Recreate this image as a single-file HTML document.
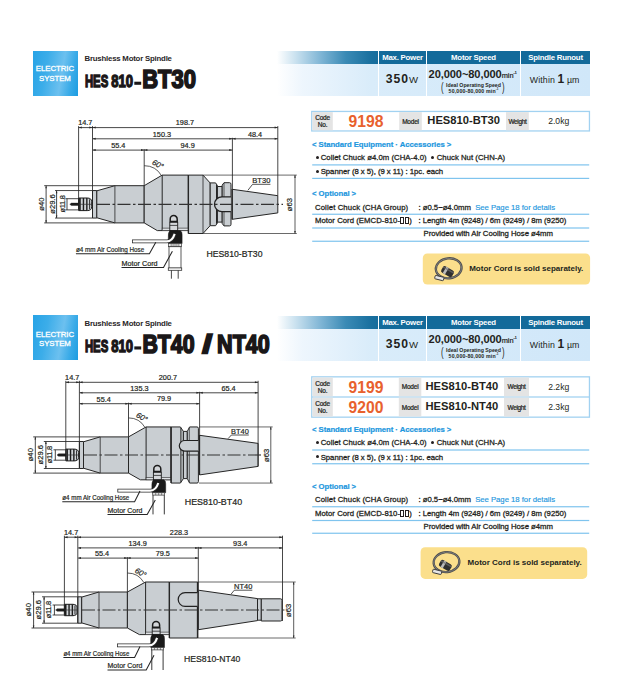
<!DOCTYPE html>
<html><head><meta charset="utf-8"><title>HES810</title>
<style>
html,body{margin:0;padding:0;background:#fff;}
body{width:624px;height:683px;position:relative;overflow:hidden;font-family:"Liberation Sans",sans-serif;color:#231f20;}
.a{position:absolute;white-space:nowrap;line-height:1;}
.es{left:33px;width:45px;height:45px;background:linear-gradient(100deg,#27a3e6 0%,#3cade9 30%,#6cc0ef 62%,#3aabe8 82%,#1c9ce1 100%);}
.es span{position:absolute;left:-.6px;width:45px;text-align:center;color:#fff;font-size:7.8px;line-height:9.4px;top:13.4px;letter-spacing:-0.05px;-webkit-text-stroke:.3px #fff}
.sub{left:84.5px;font-size:7.8px;font-weight:bold;color:#2a2627;letter-spacing:-0.2px}
.hb{left:277px;width:313px;height:13px;background:linear-gradient(90deg,#fff 0%,#c9e1ef 6%,#7fb5d5 14%,#3a8ab5 22%,#19709f 30%,#136a9a 34%,#136a9a 100%);}
.lb{left:277px;width:313px;height:32px;background:linear-gradient(90deg,#fff 0%,#eef6fd 8%,#d9ecfa 30%,#d0e7f9 100%);}
.vs{width:1px;height:45px;background:#fff;}
.ht{color:#fff;font-weight:bold;font-size:7.8px;text-align:center;letter-spacing:-0.22px}
.cb{left:311px;width:276px;border:1.5px solid #a5d3f1;background:#fff;}
.g{background:#e3e3e3;}
.gl{font-size:6.5px;line-height:7.3px;color:#231f20;text-align:center;letter-spacing:-0.2px;-webkit-text-stroke:.22px #231f20}
.code{color:#e8612d;font-weight:bold;font-size:15.7px;}
.mod{font-weight:bold;font-size:11.2px;color:#231f20}
.wt{font-size:8.6px;color:#231f20}
.bh{color:#1d97de;font-weight:bold;font-size:7.75px;left:312.3px;letter-spacing:-0.06px;-webkit-text-stroke:.2px #1d97de}
.t{font-size:7.75px;color:#231f20;letter-spacing:-0.03px;-webkit-text-stroke:.28px #231f20}
.bx{display:inline-block;width:2.1px;height:5.6px;border:.9px solid #231f20;margin:0 .25px;vertical-align:-1px;box-sizing:content-box}
.bu{display:inline-block;width:3px;height:3px;border-radius:50%;background:#231f20;vertical-align:1.3px;margin:0 2.2px 0 .5px}
.ln{left:312px;width:277px;height:1px;background:#84c6ef;}
.yb{width:167px;height:31px;background:#fbdf8c;border-radius:4.5px;}
.yt{font-weight:bold;font-size:8px;color:#231f20;letter-spacing:0}
</style></head><body>
<div class="a es" style="top:51px"><span style="top:13.4px">ELECTRIC<br>SYSTEM</span></div>
<div class="a sub" style="top:55.2px">Brushless Motor Spindle</div>
<svg class="a" style="left:0;top:0" width="624" height="683" viewBox="0 0 624 683"><g font-family="Liberation Sans, sans-serif" font-weight="bold" fill="#1a1718" stroke="#1a1718" stroke-linejoin="miter"><text x="84.9" y="87.2" font-size="17.3" stroke-width="1.35" textLength="23.4" lengthAdjust="spacingAndGlyphs">HES</text><text x="111.3" y="87.2" font-size="17.3" stroke-width="1.35" textLength="21.8" lengthAdjust="spacingAndGlyphs">810</text><rect x="134.3" y="81.7" width="6.9" height="3.1" stroke="none"/><text x="142.20" y="87.9" font-size="25.2" stroke-width="1.7" textLength="53.80" lengthAdjust="spacingAndGlyphs">BT30</text></g></svg>
<div class="a hb" style="top:51px"></div><div class="a lb" style="top:64px"></div>
<div class="a vs" style="left:378px;top:51px"></div>
<div class="a vs" style="left:426px;top:51px"></div>
<div class="a vs" style="left:520px;top:51px"></div>
<div class="a ht" style="left:379px;width:47px;top:54px">Max. Power</div>
<div class="a ht" style="left:427px;width:93px;top:54px">Motor Speed</div>
<div class="a ht" style="left:521px;width:69px;top:54px">Spindle Runout</div>
<div class="a" style="left:378.4px;width:47px;top:72.7px;text-align:center;font-weight:bold;font-size:12.2px;letter-spacing:1px">350<span style="font-weight:normal;font-size:9.6px;letter-spacing:0">W</span></div>
<div class="a" style="left:426.2px;width:93px;top:68.6px;text-align:center;font-weight:bold;font-size:11.1px;letter-spacing:-0.1px">20,000~80,000<span style="font-weight:normal;font-size:7.4px;letter-spacing:0;-webkit-text-stroke:.2px #231f20">min<sup style="font-size:3.6px;line-height:0;vertical-align:3.6px">-1</sup></span></div>
<div class="a" style="left:427px;width:93px;top:83px;text-align:center;font-weight:bold;font-size:5.2px;line-height:5.5px;letter-spacing:0">Ideal Operating Speed<br><span style="letter-spacing:.18px">50,000-80,000 min</span><sup style="font-size:3px;line-height:0">-1</sup></div>
<div class="a" style="left:441.3px;top:81.3px;font-size:12.5px;transform:scaleX(.62);transform-origin:0 0;color:#231f20">(</div>
<div class="a" style="left:501.6px;top:81.3px;font-size:12.5px;transform:scaleX(.62);transform-origin:0 0;color:#231f20">)</div>
<div class="a" style="left:520.2px;width:69px;top:72.6px;text-align:center;font-size:8.8px;letter-spacing:.12px">Within <b style="font-size:12px">1</b> &micro;m</div>
<svg class="a" style="left:0;top:0" width="624" height="683" viewBox="0 0 624 683">
<rect x="311.1" y="110.8" width="279.0" height="20.799999999999997" fill="#a2d2f1"/>
<rect x="312.40000000000003" y="112.10" width="276.4" height="18.20" fill="#fff"/>
<rect x="312.40000000000003" y="112.10" width="20.40" height="18.20" fill="#e4e4e4"/>
<rect x="399.2" y="112.10" width="22.60" height="18.20" fill="#e4e4e4"/>
<rect x="506" y="112.10" width="22.80" height="18.20" fill="#e4e4e4"/>
</svg>
<div class="a gl" style="left:312.4px;top:114.05px;width:20.4px">Code<br>No.</div>
<div class="a code" style="left:348.6px;top:114.20px">9198</div>
<div class="a gl" style="left:399.2px;top:117.70px;width:22.6px">Model</div>
<div class="a mod" style="left:427.3px;top:115.30px">HES810-BT30</div>
<div class="a gl" style="left:506px;top:117.70px;width:22.8px;letter-spacing:-.35px">Weight</div>
<div class="a wt" style="left:548.2px;top:116.80px">2.0kg</div>
<div class="a bh" style="left:312px;top:140.69px">&lt; Standard Equipment &middot; Accessories &gt;</div>
<div class="a t" style="left:315px;top:154.19px"><span style="letter-spacing:.03px"><i class="bu"></i>Collet Chuck &oslash;4.0m (CHA-4.0)&nbsp; <i class="bu"></i>Chuck Nut (CHN-A)</span></div>
<svg class="a" style="left:312px;top:162px" width="278" height="5" viewBox="0 162 278 5"><rect x="0.2" y="164.30" width="277" height="1.2" fill="#7fc4ee"/></svg>
<div class="a t" style="left:315px;top:168.19px"><i class="bu"></i>Spanner (8 x 5), (9 x 11) : 1pc. each</div>
<svg class="a" style="left:312px;top:176px" width="278" height="5" viewBox="0 176 278 5"><rect x="0.2" y="177.80" width="277" height="1.2" fill="#7fc4ee"/></svg>
<div class="a bh" style="left:312px;top:190.49px">&lt; Optional &gt;</div>
<div class="a t" style="left:315px;top:203.69px"><span style="letter-spacing:.1px">Collet Chuck (CHA Group)</span></div>
<div class="a t" style="left:418.5px;top:203.69px">: &oslash;0.5~&oslash;4.0mm&nbsp; <span style="color:#1d97de;-webkit-text-stroke:.15px #1d97de">See Page 18 for details</span></div>
<svg class="a" style="left:312px;top:212px" width="278" height="5" viewBox="0 212 278 5"><rect x="0.2" y="213.65" width="277" height="1.2" fill="#7fc4ee"/></svg>
<div class="a t" style="left:315px;top:216.89px"><span style="letter-spacing:.03px">Motor Cord (EMCD-810-<i class="bx"></i><i class="bx"></i>)</span></div>
<div class="a t" style="left:418.5px;top:216.89px">: Length 4m (9248) / 6m (9249) / 8m (9250)</div>
<svg class="a" style="left:312px;top:226px" width="278" height="5" viewBox="0 226 278 5"><rect x="0.2" y="227.40" width="277" height="1.2" fill="#7fc4ee"/></svg>
<div class="a t" style="left:423.5px;top:230.39px">Provided with Air Cooling Hose &oslash;4mm</div>
<svg class="a" style="left:312px;top:239px" width="278" height="5" viewBox="0 239 278 5"><rect x="0.2" y="240.65" width="277" height="1.2" fill="#7fc4ee"/></svg>
<svg class="a" style="left:0;top:0" width="624" height="683" viewBox="0 0 624 683">
<rect x="422.8" y="253.4" width="167.3" height="31.2" rx="4.5" fill="#fbdf8c"/>
<g transform="translate(422.8 253.4)">
<g transform="rotate(-6 25.9 14.9)"><ellipse cx="25.9" cy="14.9" rx="12.9" ry="10" fill="none" stroke="#4c4c4c" stroke-width="2.3"/>
<ellipse cx="25.9" cy="14.9" rx="12.9" ry="10" fill="none" stroke="#8d8d8b" stroke-width=".7"/></g>
<g transform="rotate(14 16.5 24.7)"><rect x="12" y="22.9" width="9" height="3.5" rx=".8" fill="#e6e6e6" stroke="#3a3a3a" stroke-width=".9"/></g>
<g transform="rotate(30 24.6 18)"><rect x="18.6" y="14.4" width="12.4" height="7.4" rx="2.2" fill="#2f2f2f"/><rect x="21.4" y="14.4" width="2.6" height="7.4" fill="#b9b9b9"/><rect x="18.6" y="15.6" width="12.4" height="1.5" fill="#6d6d6d" opacity=".7"/></g>
</g></svg>
<div class="a yt" style="left:469.2px;top:264.90px">Motor Cord is sold separately.</div>
<div class="a es" style="top:315px"><span style="top:14.700000000000001px">ELECTRIC<br>SYSTEM</span></div>
<div class="a sub" style="top:320.09999999999997px">Brushless Motor Spindle</div>
<svg class="a" style="left:0;top:0" width="624" height="683" viewBox="0 0 624 683"><g font-family="Liberation Sans, sans-serif" font-weight="bold" fill="#1a1718" stroke="#1a1718" stroke-linejoin="miter"><text x="84.9" y="351.9" font-size="17.3" stroke-width="1.35" textLength="23.4" lengthAdjust="spacingAndGlyphs">HES</text><text x="111.3" y="351.9" font-size="17.3" stroke-width="1.35" textLength="21.8" lengthAdjust="spacingAndGlyphs">810</text><rect x="134.3" y="346.4" width="6.9" height="3.1" stroke="none"/><text x="142.40" y="352.59999999999997" font-size="25.2" stroke-width="1.7" textLength="52.20" lengthAdjust="spacingAndGlyphs">BT40</text><text x="202.30" y="352.59999999999997" font-size="25.2" stroke-width="1.7" textLength="10.00" lengthAdjust="spacingAndGlyphs">/</text><text x="217.10" y="352.59999999999997" font-size="25.2" stroke-width="1.7" textLength="52.70" lengthAdjust="spacingAndGlyphs">NT40</text></g></svg>
<div class="a hb" style="top:316px"></div><div class="a lb" style="top:329px"></div>
<div class="a vs" style="left:378px;top:316px"></div>
<div class="a vs" style="left:426px;top:316px"></div>
<div class="a vs" style="left:520px;top:316px"></div>
<div class="a ht" style="left:379px;width:47px;top:319px">Max. Power</div>
<div class="a ht" style="left:427px;width:93px;top:319px">Motor Speed</div>
<div class="a ht" style="left:521px;width:69px;top:319px">Spindle Runout</div>
<div class="a" style="left:378.4px;width:47px;top:337.7px;text-align:center;font-weight:bold;font-size:12.2px;letter-spacing:1px">350<span style="font-weight:normal;font-size:9.6px;letter-spacing:0">W</span></div>
<div class="a" style="left:426.2px;width:93px;top:333.6px;text-align:center;font-weight:bold;font-size:11.1px;letter-spacing:-0.1px">20,000~80,000<span style="font-weight:normal;font-size:7.4px;letter-spacing:0;-webkit-text-stroke:.2px #231f20">min<sup style="font-size:3.6px;line-height:0;vertical-align:3.6px">-1</sup></span></div>
<div class="a" style="left:427px;width:93px;top:348px;text-align:center;font-weight:bold;font-size:5.2px;line-height:5.5px;letter-spacing:0">Ideal Operating Speed<br><span style="letter-spacing:.18px">50,000-80,000 min</span><sup style="font-size:3px;line-height:0">-1</sup></div>
<div class="a" style="left:441.3px;top:346.3px;font-size:12.5px;transform:scaleX(.62);transform-origin:0 0;color:#231f20">(</div>
<div class="a" style="left:501.6px;top:346.3px;font-size:12.5px;transform:scaleX(.62);transform-origin:0 0;color:#231f20">)</div>
<div class="a" style="left:520.2px;width:69px;top:337.6px;text-align:center;font-size:8.8px;letter-spacing:.12px">Within <b style="font-size:12px">1</b> &micro;m</div>
<svg class="a" style="left:0;top:0" width="624" height="683" viewBox="0 0 624 683">
<rect x="311.1" y="376.2" width="279.0" height="41.60000000000002" fill="#a2d2f1"/>
<rect x="312.40000000000003" y="377.50" width="276.4" height="18.85" fill="#fff"/>
<rect x="312.40000000000003" y="377.50" width="20.40" height="18.85" fill="#e4e4e4"/>
<rect x="398.8" y="377.50" width="22.50" height="18.85" fill="#e4e4e4"/>
<rect x="504" y="377.50" width="25.00" height="18.85" fill="#e4e4e4"/>
<rect x="312.40000000000003" y="397.65" width="276.4" height="18.85" fill="#fff"/>
<rect x="312.40000000000003" y="397.65" width="20.40" height="18.85" fill="#e4e4e4"/>
<rect x="398.8" y="397.65" width="22.50" height="18.85" fill="#e4e4e4"/>
<rect x="504" y="397.65" width="25.00" height="18.85" fill="#e4e4e4"/>
</svg>
<div class="a gl" style="left:312.4px;top:379.78px;width:20.4px">Code<br>No.</div>
<div class="a code" style="left:348.6px;top:379.93px">9199</div>
<div class="a gl" style="left:398.8px;top:383.43px;width:22.5px">Model</div>
<div class="a mod" style="left:425.5px;top:381.03px">HES810-BT40</div>
<div class="a gl" style="left:504px;top:383.43px;width:25.0px;letter-spacing:-.35px">Weight</div>
<div class="a wt" style="left:548.2px;top:382.53px">2.2kg</div>
<div class="a gl" style="left:312.4px;top:399.93px;width:20.4px">Code<br>No.</div>
<div class="a code" style="left:348.6px;top:400.08px">9200</div>
<div class="a gl" style="left:398.8px;top:403.58px;width:22.5px">Model</div>
<div class="a mod" style="left:425.5px;top:401.18px">HES810-NT40</div>
<div class="a gl" style="left:504px;top:403.58px;width:25.0px;letter-spacing:-.35px">Weight</div>
<div class="a wt" style="left:548.2px;top:402.68px">2.3kg</div>
<div class="a bh" style="left:312px;top:425.69px">&lt; Standard Equipment &middot; Accessories &gt;</div>
<div class="a t" style="left:315px;top:439.49px"><span style="letter-spacing:.03px"><i class="bu"></i>Collet Chuck &oslash;4.0m (CHA-4.0)&nbsp; <i class="bu"></i>Chuck Nut (CHN-A)</span></div>
<svg class="a" style="left:312px;top:448px" width="278" height="5" viewBox="0 448 278 5"><rect x="0.2" y="449.40" width="277" height="1.2" fill="#7fc4ee"/></svg>
<div class="a t" style="left:315px;top:453.69px"><i class="bu"></i>Spanner (8 x 5), (9 x 11) : 1pc. each</div>
<svg class="a" style="left:312px;top:461px" width="278" height="5" viewBox="0 461 278 5"><rect x="0.2" y="463.15" width="277" height="1.2" fill="#7fc4ee"/></svg>
<div class="a bh" style="left:312px;top:482.89px">&lt; Optional &gt;</div>
<div class="a t" style="left:315px;top:495.69px"><span style="letter-spacing:.1px">Collet Chuck (CHA Group)</span></div>
<div class="a t" style="left:418.5px;top:495.69px">: &oslash;0.5~&oslash;4.0mm&nbsp; <span style="color:#1d97de;-webkit-text-stroke:.15px #1d97de">See Page 18 for details</span></div>
<svg class="a" style="left:312px;top:504px" width="278" height="5" viewBox="0 504 278 5"><rect x="0.2" y="506.15" width="277" height="1.2" fill="#7fc4ee"/></svg>
<div class="a t" style="left:315px;top:509.89px"><span style="letter-spacing:.03px">Motor Cord (EMCD-810-<i class="bx"></i><i class="bx"></i>)</span></div>
<div class="a t" style="left:418.5px;top:509.89px">: Length 4m (9248) / 6m (9249) / 8m (9250)</div>
<svg class="a" style="left:312px;top:518px" width="278" height="5" viewBox="0 518 278 5"><rect x="0.2" y="519.90" width="277" height="1.2" fill="#7fc4ee"/></svg>
<div class="a t" style="left:423.5px;top:522.99px">Provided with Air Cooling Hose &oslash;4mm</div>
<svg class="a" style="left:312px;top:531px" width="278" height="5" viewBox="0 531 278 5"><rect x="0.2" y="532.65" width="277" height="1.2" fill="#7fc4ee"/></svg>
<svg class="a" style="left:0;top:0" width="624" height="683" viewBox="0 0 624 683">
<rect x="420.6" y="547.2" width="166.6" height="31.7" rx="4.5" fill="#fbdf8c"/>
<g transform="translate(420.6 547.2)">
<g transform="rotate(-6 25.9 14.9)"><ellipse cx="25.9" cy="14.9" rx="12.9" ry="10" fill="none" stroke="#4c4c4c" stroke-width="2.3"/>
<ellipse cx="25.9" cy="14.9" rx="12.9" ry="10" fill="none" stroke="#8d8d8b" stroke-width=".7"/></g>
<g transform="rotate(14 16.5 24.7)"><rect x="12" y="22.9" width="9" height="3.5" rx=".8" fill="#e6e6e6" stroke="#3a3a3a" stroke-width=".9"/></g>
<g transform="rotate(30 24.6 18)"><rect x="18.6" y="14.4" width="12.4" height="7.4" rx="2.2" fill="#2f2f2f"/><rect x="21.4" y="14.4" width="2.6" height="7.4" fill="#b9b9b9"/><rect x="18.6" y="15.6" width="12.4" height="1.5" fill="#6d6d6d" opacity=".7"/></g>
</g></svg>
<div class="a yt" style="left:467.6px;top:558.95px">Motor Cord is sold separately.</div>
<svg class="a" style="left:0;top:0" width="624" height="683" viewBox="0 0 624 683"><g font-family="Liberation Sans, sans-serif" fill="#231f20">
<line x1="44.20" y1="185.70" x2="114.90" y2="185.70" stroke="#262626" stroke-width="0.85" />
<line x1="44.20" y1="222.90" x2="114.90" y2="222.90" stroke="#262626" stroke-width="0.85" />
<line x1="46.10" y1="185.70" x2="46.10" y2="222.90" stroke="#262626" stroke-width="0.85" />
<line x1="55.00" y1="190.55" x2="92.50" y2="190.55" stroke="#262626" stroke-width="0.85" />
<line x1="55.00" y1="218.05" x2="92.50" y2="218.05" stroke="#262626" stroke-width="0.85" />
<line x1="56.60" y1="190.55" x2="56.60" y2="218.05" stroke="#262626" stroke-width="0.85" />
<line x1="65.40" y1="198.70" x2="78.60" y2="198.70" stroke="#262626" stroke-width="0.85" />
<line x1="65.40" y1="209.90" x2="78.60" y2="209.90" stroke="#262626" stroke-width="0.85" />
<line x1="67.00" y1="198.70" x2="67.00" y2="209.90" stroke="#262626" stroke-width="0.85" />
<text x="44.30" y="204.00" font-size="7.7" text-anchor="middle" transform="rotate(-90 44.30 204.00)" stroke="#231f20" stroke-width=".2" >&#248;40</text>
<text x="54.70" y="204.00" font-size="7.6" text-anchor="middle" transform="rotate(-90 54.70 204.00)" stroke="#231f20" stroke-width=".2" >&#248;29.6</text>
<text x="64.60" y="204.00" font-size="7.5" text-anchor="middle" transform="rotate(-90 64.60 204.00)" stroke="#231f20" stroke-width=".2" letter-spacing="-0.3">&#248;11.8</text>
<line x1="203.00" y1="175.10" x2="296.80" y2="175.10" stroke="#444" stroke-width="0.8" />
<line x1="203.00" y1="233.50" x2="296.80" y2="233.50" stroke="#444" stroke-width="0.8" />
<line x1="295.00" y1="175.10" x2="295.00" y2="233.50" stroke="#262626" stroke-width="0.75" />
<text x="292.50" y="204.60" font-size="7.7" text-anchor="middle" transform="rotate(-90 292.50 204.60)" stroke="#231f20" stroke-width=".2" >&#248;63</text>
<path d="M92.5 190.55 H96.8 V218.05 H92.5 Z" fill="#c9ced2" stroke="#262626" stroke-width="1.0" stroke-linejoin="round" />
<path d="M96.8 190.85000000000002 L114.9 185.70000000000002 H144.2 V222.9 H114.9 L96.8 217.75 Z" fill="#c9ced2" stroke="#262626" stroke-width="1.0" stroke-linejoin="round" />
<line x1="114.90" y1="185.70" x2="114.90" y2="222.90" stroke="#262626" stroke-width="0.8" />
<path d="M144.2 185.70000000000002 L162.2 175.10000000000002 H188.4 V230.6 H157.28 L144.2 222.9 Z" fill="#c9ced2" stroke="#262626" stroke-width="1.0" stroke-linejoin="round" />
<line x1="162.20" y1="175.10" x2="162.20" y2="230.60" stroke="#262626" stroke-width="1.0" />
<rect x="162.20" y="228.10" width="26.20" height="2.5" fill="#dfe2e5" stroke="#262626" stroke-width=".6"/>
<path d="M188.4 175.10000000000002 H203 L210.2 183.0 V225.60000000000002 L203 233.5 H188.4 Z" fill="#c9ced2" stroke="#262626" stroke-width="1.0" stroke-linejoin="round" />
<line x1="203.00" y1="175.10" x2="203.00" y2="233.50" stroke="#262626" stroke-width="0.8" />
<path d="M210.2 182.9 H215.6 L217.4 185.70000000000002 V222.9 L215.6 225.70000000000002 H210.2 Z" fill="#c9ced2" stroke="#262626" stroke-width="1.0" stroke-linejoin="round" />
<line x1="216.60" y1="184.80" x2="216.60" y2="223.80" stroke="#262626" stroke-width="1.2" />
<path d="M217.4 186.5 H222.2 V222.10000000000002 H217.4 Z" fill="#c9ced2" stroke="#262626" stroke-width="1.0" stroke-linejoin="round" />
<path d="M222.2 185.10000000000002 L224 182.70000000000002 H229.6 Q231 182.70000000000002 231 184.3 V224.3 Q231 225.9 229.6 225.9 H224 L222.2 223.5 Z" fill="#c9ced2" stroke="#262626" stroke-width="1.0" stroke-linejoin="round" />
<line x1="224.00" y1="182.90" x2="224.00" y2="225.70" stroke="#262626" stroke-width="0.7" />
<path d="M232.3 189.3 L277.8 195.70000000000002 V212.9 L232.3 219.3 Z" fill="#c9ced2" stroke="#262626" stroke-width="1.0" stroke-linejoin="round" />
<line x1="232.10" y1="189.00" x2="232.10" y2="219.60" stroke="#262626" stroke-width="1.2" />
<path d="M230.9 196.9 H221.9 A7.4 7.4 0 0 0 221.9 211.70000000000002 H230.9" fill="#c9ced2" stroke="#222" stroke-width="1.3"/>
<line x1="188.40" y1="175.10" x2="188.40" y2="233.50" stroke="#262626" stroke-width="1.3" />
<line x1="78.60" y1="127.60" x2="277.80" y2="127.60" stroke="#262626" stroke-width="0.85" />
<line x1="93.00" y1="138.80" x2="277.80" y2="138.80" stroke="#262626" stroke-width="0.85" />
<line x1="93.00" y1="150.10" x2="232.40" y2="150.10" stroke="#262626" stroke-width="0.85" />
<line x1="78.60" y1="126.10" x2="78.60" y2="209.30" stroke="#262626" stroke-width="0.85" />
<line x1="92.50" y1="126.10" x2="92.50" y2="218.05" stroke="#262626" stroke-width="0.85" />
<line x1="144.20" y1="149.10" x2="144.20" y2="185.70" stroke="#262626" stroke-width="0.85" />
<line x1="232.40" y1="137.80" x2="232.40" y2="189.30" stroke="#262626" stroke-width="0.85" />
<line x1="277.80" y1="126.10" x2="277.80" y2="195.70" stroke="#262626" stroke-width="0.85" />
<path d="M78.60 127.60 l3.2 -1 v2 Z" fill="#262626"/>
<path d="M92.50 127.60 l-3.2 -1 v2 Z" fill="#262626"/>
<path d="M92.50 127.60 l3.2 -1 v2 Z" fill="#262626"/>
<path d="M277.80 127.60 l-3.2 -1 v2 Z" fill="#262626"/>
<path d="M92.50 138.80 l3.2 -1 v2 Z" fill="#262626"/>
<path d="M232.40 138.80 l-3.2 -1 v2 Z" fill="#262626"/>
<path d="M232.40 138.80 l3.2 -1 v2 Z" fill="#262626"/>
<path d="M277.80 138.80 l-3.2 -1 v2 Z" fill="#262626"/>
<path d="M92.50 150.10 l3.2 -1 v2 Z" fill="#262626"/>
<path d="M144.20 150.10 l-3.2 -1 v2 Z" fill="#262626"/>
<path d="M144.20 150.10 l3.2 -1 v2 Z" fill="#262626"/>
<path d="M232.40 150.10 l-3.2 -1 v2 Z" fill="#262626"/>
<path d="M46.10 185.70 l-.8 2.6 h1.6 Z M46.10 222.90 l-.8 -2.6 h1.6 Z" fill="#262626"/>
<path d="M56.60 190.55 l-.8 2.6 h1.6 Z M56.60 218.05 l-.8 -2.6 h1.6 Z" fill="#262626"/>
<path d="M295.00 175.10 l-.8 2.6 h1.6 Z M295.00 233.50 l-.8 -2.6 h1.6 Z" fill="#262626"/>
<text x="85.30" y="125.40" font-size="7.3" text-anchor="middle" stroke="#231f20" stroke-width=".2" >14.7</text>
<text x="184.90" y="125.40" font-size="7.3" text-anchor="middle" stroke="#231f20" stroke-width=".2" >198.7</text>
<text x="161.90" y="136.60" font-size="7.3" text-anchor="middle" stroke="#231f20" stroke-width=".2" >150.3</text>
<text x="255.00" y="136.60" font-size="7.3" text-anchor="middle" stroke="#231f20" stroke-width=".2" >48.4</text>
<text x="118.30" y="147.80" font-size="7.3" text-anchor="middle" stroke="#231f20" stroke-width=".2" >55.4</text>
<text x="187.60" y="147.80" font-size="7.3" text-anchor="middle" stroke="#231f20" stroke-width=".2" >94.9</text>
<path d="M144.20 165.70 A20 20 0 0 1 161.52 175.70" fill="none" stroke="#262626" stroke-width=".75"/>
<text x="156.60" y="166.70" font-size="7.8" text-anchor="middle" transform="rotate(28 156.60 166.70)" stroke="#231f20" stroke-width=".2" font-style="italic">60&#176;</text>
<line x1="97" y1="204.3" x2="283" y2="204.3" stroke="#333" stroke-width="1.15" stroke-dasharray="13 2.5 2.5 2.5"/>
<path d="M78.6 198.00 H87.25 Q91.70 198.00 91.70 201.78 V206.82 Q91.70 210.60 87.25 210.60 H78.6 Z" fill="#d0d4d8" stroke="#1c1c1c" stroke-width="1"/>
<line x1="79.91" y1="198.00" x2="79.91" y2="210.60" stroke="#1c1c1c" stroke-width="1.7" />
<line x1="83.45" y1="198.00" x2="83.45" y2="210.60" stroke="#1c1c1c" stroke-width="1.4" />
<line x1="86.85" y1="198.00" x2="86.85" y2="210.60" stroke="#1c1c1c" stroke-width="1.4" />
<line x1="89.60" y1="199.26" x2="89.60" y2="209.34" stroke="#1c1c1c" stroke-width="0.9" />
<line x1="78.60" y1="204.30" x2="92.50" y2="204.30" stroke="#333" stroke-width="0.7" />
<path d="M69.80 204.3 L71.40 203.10000000000002 H78.6 V205.5 H71.40 Z" fill="#1c1c1c" stroke="#1c1c1c" stroke-width=".4"/>
<path d="M170.20 221.50 V219.10 A3.5 3.5 0 0 1 177.20 219.10 V221.50 Z" fill="#d3d6d9" stroke="#1c1c1c" stroke-width="1.5"/>
<rect x="169.80" y="222.30" width="7.9" height="8.30" fill="#d5d8db" stroke="#1c1c1c" stroke-width=".9"/>
<line x1="169.80" y1="225.40" x2="177.70" y2="225.40" stroke="#262626" stroke-width="0.8" />
<path d="M169.90 230.6 H180.20 Q182.30 231.6 182.10 234.6 V243.5 H168.30 V237.6 Q167.90 232.6 169.90 230.6 Z" fill="#1a1a1a" stroke="#1a1a1a" stroke-width=".5"/>
<path d="M132 241.40 H166.70 Q172.20 241.40 174.70 233.80" fill="none" stroke="#2a2a2a" stroke-width="3.8" stroke-linecap="butt"/>
<path d="M132.8 241.40 H166.70 Q172.20 241.40 174.70 233.80" fill="none" stroke="#fff" stroke-width="2.1" stroke-linecap="butt"/>
<rect x="168.60" y="243.50" width="12.80" height="3.2" fill="#e8e8e8" stroke="#333" stroke-width=".7"/>
<line x1="171.16" y1="243.50" x2="171.16" y2="246.70" stroke="#444" stroke-width="0.6" />
<line x1="173.08" y1="243.50" x2="173.08" y2="246.70" stroke="#444" stroke-width="0.6" />
<line x1="175.00" y1="243.50" x2="175.00" y2="246.70" stroke="#444" stroke-width="0.6" />
<line x1="176.92" y1="243.50" x2="176.92" y2="246.70" stroke="#444" stroke-width="0.6" />
<line x1="178.84" y1="243.50" x2="178.84" y2="246.70" stroke="#444" stroke-width="0.6" />
<rect x="169.00" y="246.70" width="12.00" height="21.5" fill="#fff" stroke="#333" stroke-width=".8"/>
<rect x="168.30" y="267.90" width="13.40" height="2.4" fill="#fff" stroke="#333" stroke-width=".8"/>
<line x1="171.40" y1="270.30" x2="171.40" y2="278.70" stroke="#333" stroke-width="0.9" />
<line x1="178.20" y1="270.30" x2="178.20" y2="278.70" stroke="#333" stroke-width="0.9" />
<text x="75.90" y="251.80" font-size="7.2" text-anchor="start" stroke="#231f20" stroke-width=".2" textLength="68.4" lengthAdjust="spacingAndGlyphs">&#248;4 mm Air Cooling Hose</text>
<path d="M75.90 253.70 H149.40 L155.80 242.20" fill="none" stroke="#262626" stroke-width="1.05"/>
<text x="121.50" y="265.60" font-size="7.2" text-anchor="start" stroke="#231f20" stroke-width=".2" textLength="36.1" lengthAdjust="spacingAndGlyphs">Motor Cord</text>
<path d="M121.50 267.50 H163.50 L172.40 251.20" fill="none" stroke="#262626" stroke-width="1.05"/>
<text x="206.5" y="257" font-size="8.6" stroke="#231f20" stroke-width=".2" textLength="56" lengthAdjust="spacingAndGlyphs">HES810-BT30</text>
<text x="252.30" y="182.90" font-size="7.4" text-anchor="start" stroke="#231f20" stroke-width=".2" textLength="18.1" lengthAdjust="spacingAndGlyphs">BT30</text>
<path d="M270.40 184.30 H252.60 L247.90 190.30" fill="none" stroke="#262626" stroke-width=".8"/>
<line x1="33.20" y1="436.90" x2="100.20" y2="436.90" stroke="#262626" stroke-width="0.85" />
<line x1="33.20" y1="473.10" x2="100.20" y2="473.10" stroke="#262626" stroke-width="0.85" />
<line x1="35.30" y1="436.90" x2="35.30" y2="473.10" stroke="#262626" stroke-width="0.85" />
<line x1="43.80" y1="441.50" x2="79.40" y2="441.50" stroke="#262626" stroke-width="0.85" />
<line x1="43.80" y1="468.50" x2="79.40" y2="468.50" stroke="#262626" stroke-width="0.85" />
<line x1="45.90" y1="441.50" x2="45.90" y2="468.50" stroke="#262626" stroke-width="0.85" />
<line x1="53.50" y1="449.80" x2="65.80" y2="449.80" stroke="#262626" stroke-width="0.85" />
<line x1="53.50" y1="460.20" x2="65.80" y2="460.20" stroke="#262626" stroke-width="0.85" />
<line x1="55.30" y1="449.80" x2="55.30" y2="460.20" stroke="#262626" stroke-width="0.85" />
<text x="33.00" y="454.70" font-size="7.7" text-anchor="middle" transform="rotate(-90 33.00 454.70)" stroke="#231f20" stroke-width=".2" >&#248;40</text>
<text x="43.30" y="454.70" font-size="7.6" text-anchor="middle" transform="rotate(-90 43.30 454.70)" stroke="#231f20" stroke-width=".2" >&#248;29.6</text>
<text x="52.40" y="454.70" font-size="7.5" text-anchor="middle" transform="rotate(-90 52.40 454.70)" stroke="#231f20" stroke-width=".2" letter-spacing="-0.3">&#248;11.8</text>
<line x1="199.00" y1="426.95" x2="272.70" y2="426.95" stroke="#444" stroke-width="0.8" />
<line x1="199.00" y1="483.05" x2="272.70" y2="483.05" stroke="#444" stroke-width="0.8" />
<line x1="270.80" y1="426.95" x2="270.80" y2="483.05" stroke="#262626" stroke-width="0.75" />
<text x="268.60" y="455.30" font-size="7.7" text-anchor="middle" transform="rotate(-90 268.60 455.30)" stroke="#231f20" stroke-width=".2" >&#248;63</text>
<path d="M79.4 441.5 H83.5 V468.5 H79.4 Z" fill="#c9ced2" stroke="#262626" stroke-width="1.0" stroke-linejoin="round" />
<path d="M83.5 441.8 L100.2 436.9 H128.5 V473.1 H100.2 L83.5 468.2 Z" fill="#c9ced2" stroke="#262626" stroke-width="1.0" stroke-linejoin="round" />
<line x1="100.20" y1="436.90" x2="100.20" y2="473.10" stroke="#262626" stroke-width="0.8" />
<path d="M128.5 436.9 L146.1 426.95 H171.1 V479.8 H140.35 L128.5 473.1 Z" fill="#c9ced2" stroke="#262626" stroke-width="1.0" stroke-linejoin="round" />
<line x1="146.10" y1="426.95" x2="146.10" y2="479.80" stroke="#262626" stroke-width="1.0" />
<rect x="146.10" y="477.30" width="25.00" height="2.5" fill="#dfe2e5" stroke="#262626" stroke-width=".6"/>
<path d="M171.1 426.95 H180.4 L183.4 431.4 V478.6 L180.4 483.05 H171.1 Z" fill="#c9ced2" stroke="#262626" stroke-width="1.0" stroke-linejoin="round" />
<line x1="180.90" y1="427.75" x2="180.90" y2="482.25" stroke="#262626" stroke-width="1.0" />
<path d="M183.4 431.4 H187.3 V478.6 H183.4 Z" fill="#c9ced2" stroke="#262626" stroke-width="1.0" stroke-linejoin="round" />
<path d="M187.3 431.4 L189.6 426.95 H197 Q198.4 426.95 198.4 428.34999999999997 V481.65000000000003 Q198.4 483.05 197 483.05 H189.6 L187.3 478.6 Z" fill="#c9ced2" stroke="#262626" stroke-width="1.0" stroke-linejoin="round" />
<line x1="189.30" y1="427.75" x2="189.30" y2="482.25" stroke="#262626" stroke-width="0.7" />
<path d="M199.6 435.3 L258.1 443.4 V466.4 L199.6 474.9 Z" fill="#c9ced2" stroke="#262626" stroke-width="1.0" stroke-linejoin="round" />
<line x1="199.40" y1="435.00" x2="199.40" y2="475.00" stroke="#262626" stroke-width="1.3" />
<path d="M198.3 440.50 H184.6 A5.3 5.3 0 0 0 184.6 451.10 H198.3" fill="#c9ced2" stroke="#222" stroke-width="1.2"/>
<line x1="171.10" y1="426.95" x2="171.10" y2="483.05" stroke="#262626" stroke-width="1.3" />
<line x1="65.80" y1="382.30" x2="258.10" y2="382.30" stroke="#262626" stroke-width="0.85" />
<line x1="79.90" y1="392.80" x2="258.10" y2="392.80" stroke="#262626" stroke-width="0.85" />
<line x1="79.90" y1="403.70" x2="199.60" y2="403.70" stroke="#262626" stroke-width="0.85" />
<line x1="65.80" y1="380.80" x2="65.80" y2="459.60" stroke="#262626" stroke-width="0.85" />
<line x1="79.40" y1="380.80" x2="79.40" y2="468.50" stroke="#262626" stroke-width="0.85" />
<line x1="128.50" y1="402.70" x2="128.50" y2="436.90" stroke="#262626" stroke-width="0.85" />
<line x1="199.60" y1="391.80" x2="199.60" y2="435.30" stroke="#262626" stroke-width="0.85" />
<line x1="258.10" y1="380.80" x2="258.10" y2="466.40" stroke="#262626" stroke-width="0.85" />
<path d="M65.80 382.30 l3.2 -1 v2 Z" fill="#262626"/>
<path d="M79.40 382.30 l-3.2 -1 v2 Z" fill="#262626"/>
<path d="M79.40 382.30 l3.2 -1 v2 Z" fill="#262626"/>
<path d="M258.10 382.30 l-3.2 -1 v2 Z" fill="#262626"/>
<path d="M79.40 392.80 l3.2 -1 v2 Z" fill="#262626"/>
<path d="M199.60 392.80 l-3.2 -1 v2 Z" fill="#262626"/>
<path d="M199.60 392.80 l3.2 -1 v2 Z" fill="#262626"/>
<path d="M258.10 392.80 l-3.2 -1 v2 Z" fill="#262626"/>
<path d="M79.40 403.70 l3.2 -1 v2 Z" fill="#262626"/>
<path d="M128.50 403.70 l-3.2 -1 v2 Z" fill="#262626"/>
<path d="M128.50 403.70 l3.2 -1 v2 Z" fill="#262626"/>
<path d="M199.60 403.70 l-3.2 -1 v2 Z" fill="#262626"/>
<path d="M35.30 436.90 l-.8 2.6 h1.6 Z M35.30 473.10 l-.8 -2.6 h1.6 Z" fill="#262626"/>
<path d="M45.90 441.50 l-.8 2.6 h1.6 Z M45.90 468.50 l-.8 -2.6 h1.6 Z" fill="#262626"/>
<path d="M270.80 426.95 l-.8 2.6 h1.6 Z M270.80 483.05 l-.8 -2.6 h1.6 Z" fill="#262626"/>
<text x="72.20" y="380.10" font-size="7.3" text-anchor="middle" stroke="#231f20" stroke-width=".2" >14.7</text>
<text x="167.90" y="380.30" font-size="7.3" text-anchor="middle" stroke="#231f20" stroke-width=".2" >200.7</text>
<text x="139.40" y="390.70" font-size="7.3" text-anchor="middle" stroke="#231f20" stroke-width=".2" >135.3</text>
<text x="228.50" y="390.70" font-size="7.3" text-anchor="middle" stroke="#231f20" stroke-width=".2" >65.4</text>
<text x="103.70" y="401.60" font-size="7.3" text-anchor="middle" stroke="#231f20" stroke-width=".2" >55.4</text>
<text x="164.00" y="401.40" font-size="7.3" text-anchor="middle" stroke="#231f20" stroke-width=".2" >79.9</text>
<path d="M128.50 417.90 A19 19 0 0 1 144.95 427.40" fill="none" stroke="#262626" stroke-width=".75"/>
<text x="140.60" y="419.60" font-size="7.8" text-anchor="middle" transform="rotate(28 140.60 419.60)" stroke="#231f20" stroke-width=".2" font-style="italic">60&#176;</text>
<line x1="84" y1="455" x2="262" y2="455" stroke="#333" stroke-width="1.15" stroke-dasharray="13 2.5 2.5 2.5"/>
<path d="M65.8 449.10 H74.25 Q78.60 449.10 78.60 452.64 V457.36 Q78.60 460.90 74.25 460.90 H65.8 Z" fill="#d0d4d8" stroke="#1c1c1c" stroke-width="1"/>
<line x1="67.08" y1="449.10" x2="67.08" y2="460.90" stroke="#1c1c1c" stroke-width="1.7" />
<line x1="70.54" y1="449.10" x2="70.54" y2="460.90" stroke="#1c1c1c" stroke-width="1.4" />
<line x1="73.86" y1="449.10" x2="73.86" y2="460.90" stroke="#1c1c1c" stroke-width="1.4" />
<line x1="76.55" y1="450.28" x2="76.55" y2="459.72" stroke="#1c1c1c" stroke-width="0.9" />
<line x1="65.80" y1="455.00" x2="79.40" y2="455.00" stroke="#333" stroke-width="0.7" />
<path d="M57.00 455 L58.60 453.8 H65.8 V456.2 H58.60 Z" fill="#1c1c1c" stroke="#1c1c1c" stroke-width=".4"/>
<path d="M153.80 471.50 V469.10 A3.5 3.5 0 0 1 160.80 469.10 V471.50 Z" fill="#d3d6d9" stroke="#1c1c1c" stroke-width="1.5"/>
<rect x="153.40" y="472.30" width="7.9" height="7.50" fill="#d5d8db" stroke="#1c1c1c" stroke-width=".9"/>
<line x1="153.40" y1="475.40" x2="161.30" y2="475.40" stroke="#262626" stroke-width="0.8" />
<path d="M153.50 479.8 H163.80 Q165.90 480.8 165.70 483.8 V492.7 H151.90 V486.8 Q151.50 481.8 153.50 479.8 Z" fill="#1a1a1a" stroke="#1a1a1a" stroke-width=".5"/>
<path d="M117.4 490.60 H150.30 Q155.80 490.60 158.30 483.00" fill="none" stroke="#2a2a2a" stroke-width="3.8" stroke-linecap="butt"/>
<path d="M118.2 490.60 H150.30 Q155.80 490.60 158.30 483.00" fill="none" stroke="#fff" stroke-width="2.1" stroke-linecap="butt"/>
<rect x="152.70" y="492.70" width="11.90" height="2.4" fill="#e8e8e8" stroke="#333" stroke-width=".7"/>
<line x1="155.68" y1="492.70" x2="155.68" y2="495.10" stroke="#444" stroke-width="0.6" />
<line x1="158.65" y1="492.70" x2="158.65" y2="495.10" stroke="#444" stroke-width="0.6" />
<line x1="161.63" y1="492.70" x2="161.63" y2="495.10" stroke="#444" stroke-width="0.6" />
<line x1="153.00" y1="495.10" x2="153.00" y2="514.40" stroke="#222" stroke-width="0.9" />
<line x1="164.30" y1="495.10" x2="164.30" y2="514.40" stroke="#222" stroke-width="0.9" />
<text x="62.30" y="499.80" font-size="7.2" text-anchor="start" stroke="#231f20" stroke-width=".2" textLength="67" lengthAdjust="spacingAndGlyphs">&#248;4 mm Air Cooling Hose</text>
<path d="M62.30 501.70 H134.60 L140.00 491.00" fill="none" stroke="#262626" stroke-width="1.05"/>
<text x="107.50" y="512.60" font-size="7.2" text-anchor="start" stroke="#231f20" stroke-width=".2" textLength="34.9" lengthAdjust="spacingAndGlyphs">Motor Cord</text>
<path d="M107.50 514.50 H147.20 L155.30 499.90" fill="none" stroke="#262626" stroke-width="1.05"/>
<text x="184.7" y="505" font-size="8.6" stroke="#231f20" stroke-width=".2" textLength="57.5" lengthAdjust="spacingAndGlyphs">HES810-BT40</text>
<text x="231.10" y="433.60" font-size="7.4" text-anchor="start" stroke="#231f20" stroke-width=".2" textLength="17.7" lengthAdjust="spacingAndGlyphs">BT40</text>
<path d="M248.80 435.00 H231.40 L228.10 438.60" fill="none" stroke="#262626" stroke-width=".8"/>
<line x1="31.50" y1="592.00" x2="99.00" y2="592.00" stroke="#262626" stroke-width="0.85" />
<line x1="31.50" y1="628.00" x2="99.00" y2="628.00" stroke="#262626" stroke-width="0.85" />
<line x1="33.60" y1="592.00" x2="33.60" y2="628.00" stroke="#262626" stroke-width="0.85" />
<line x1="42.00" y1="596.80" x2="77.80" y2="596.80" stroke="#262626" stroke-width="0.85" />
<line x1="42.00" y1="623.20" x2="77.80" y2="623.20" stroke="#262626" stroke-width="0.85" />
<line x1="44.10" y1="596.80" x2="44.10" y2="623.20" stroke="#262626" stroke-width="0.85" />
<line x1="52.60" y1="605.00" x2="64.40" y2="605.00" stroke="#262626" stroke-width="0.85" />
<line x1="52.60" y1="615.00" x2="64.40" y2="615.00" stroke="#262626" stroke-width="0.85" />
<line x1="54.40" y1="605.00" x2="54.40" y2="615.00" stroke="#262626" stroke-width="0.85" />
<text x="31.00" y="609.70" font-size="7.7" text-anchor="middle" transform="rotate(-90 31.00 609.70)" stroke="#231f20" stroke-width=".2" >&#248;40</text>
<text x="41.20" y="609.70" font-size="7.6" text-anchor="middle" transform="rotate(-90 41.20 609.70)" stroke="#231f20" stroke-width=".2" >&#248;29.6</text>
<text x="51.20" y="609.70" font-size="7.5" text-anchor="middle" transform="rotate(-90 51.20 609.70)" stroke="#231f20" stroke-width=".2" letter-spacing="-0.3">&#248;11.8</text>
<line x1="197.60" y1="582.00" x2="295.70" y2="582.00" stroke="#444" stroke-width="0.8" />
<line x1="197.60" y1="638.00" x2="295.70" y2="638.00" stroke="#444" stroke-width="0.8" />
<line x1="293.70" y1="582.00" x2="293.70" y2="638.00" stroke="#262626" stroke-width="0.75" />
<text x="291.40" y="610.30" font-size="7.7" text-anchor="middle" transform="rotate(-90 291.40 610.30)" stroke="#231f20" stroke-width=".2" >&#248;63</text>
<path d="M77.8 596.8 H81.7 V623.2 H77.8 Z" fill="#c9ced2" stroke="#262626" stroke-width="1.0" stroke-linejoin="round" />
<path d="M81.7 597.0999999999999 L99 592 H127.4 V628 H99 L81.7 622.9000000000001 Z" fill="#c9ced2" stroke="#262626" stroke-width="1.0" stroke-linejoin="round" />
<line x1="99.00" y1="592.00" x2="99.00" y2="628.00" stroke="#262626" stroke-width="0.8" />
<path d="M127.4 592 L145.6 582 H169.4 V634.6 H139.41 L127.4 628 Z" fill="#c9ced2" stroke="#262626" stroke-width="1.0" stroke-linejoin="round" />
<line x1="145.60" y1="582.00" x2="145.60" y2="634.60" stroke="#262626" stroke-width="1.0" />
<rect x="145.60" y="632.10" width="23.80" height="2.5" fill="#dfe2e5" stroke="#262626" stroke-width=".6"/>
<path d="M169.4 582 H197.6 V638 H169.4 Z" fill="#c9ced2" stroke="#262626" stroke-width="1.0" stroke-linejoin="round" />
<line x1="197.60" y1="582.00" x2="197.60" y2="638.00" stroke="#262626" stroke-width="1.5" />
<path d="M198.4 590.2 L257.5 598.6 V620.6 L198.4 629.7 Z" fill="#c9ced2" stroke="#262626" stroke-width="1.0" stroke-linejoin="round" />
<path d="M257.5 598.8 H261.3 V620.2 H257.5 Z" fill="#c9ced2" stroke="#262626" stroke-width="1.0" stroke-linejoin="round" />
<path d="M261.3 598.8 H280.5 Q282 598.8 282 600.3 V619.5 Q282 621 280.5 621 H261.3 Z" fill="#c9ced2" stroke="#262626" stroke-width="1.0" stroke-linejoin="round" />
<path d="M197.4 592.60 H185.1 A6.9 6.9 0 0 0 185.1 606.40 H197.4" fill="#c9ced2" stroke="#222" stroke-width="1.2"/>
<line x1="169.40" y1="582.00" x2="169.40" y2="638.00" stroke="#262626" stroke-width="1.3" />
<line x1="64.40" y1="537.20" x2="282.50" y2="537.20" stroke="#262626" stroke-width="0.85" />
<line x1="78.30" y1="547.90" x2="282.50" y2="547.90" stroke="#262626" stroke-width="0.85" />
<line x1="78.30" y1="558.10" x2="198.30" y2="558.10" stroke="#262626" stroke-width="0.85" />
<line x1="64.40" y1="535.70" x2="64.40" y2="614.40" stroke="#262626" stroke-width="0.85" />
<line x1="77.80" y1="535.70" x2="77.80" y2="623.20" stroke="#262626" stroke-width="0.85" />
<line x1="127.40" y1="557.10" x2="127.40" y2="592.00" stroke="#262626" stroke-width="0.85" />
<line x1="198.30" y1="546.90" x2="198.30" y2="590.20" stroke="#262626" stroke-width="0.85" />
<line x1="282.50" y1="535.70" x2="282.50" y2="621.00" stroke="#262626" stroke-width="0.85" />
<path d="M64.40 537.20 l3.2 -1 v2 Z" fill="#262626"/>
<path d="M77.80 537.20 l-3.2 -1 v2 Z" fill="#262626"/>
<path d="M77.80 537.20 l3.2 -1 v2 Z" fill="#262626"/>
<path d="M282.50 537.20 l-3.2 -1 v2 Z" fill="#262626"/>
<path d="M77.80 547.90 l3.2 -1 v2 Z" fill="#262626"/>
<path d="M198.30 547.90 l-3.2 -1 v2 Z" fill="#262626"/>
<path d="M198.30 547.90 l3.2 -1 v2 Z" fill="#262626"/>
<path d="M282.50 547.90 l-3.2 -1 v2 Z" fill="#262626"/>
<path d="M77.80 558.10 l3.2 -1 v2 Z" fill="#262626"/>
<path d="M127.40 558.10 l-3.2 -1 v2 Z" fill="#262626"/>
<path d="M127.40 558.10 l3.2 -1 v2 Z" fill="#262626"/>
<path d="M198.30 558.10 l-3.2 -1 v2 Z" fill="#262626"/>
<path d="M33.60 592.00 l-.8 2.6 h1.6 Z M33.60 628.00 l-.8 -2.6 h1.6 Z" fill="#262626"/>
<path d="M44.10 596.80 l-.8 2.6 h1.6 Z M44.10 623.20 l-.8 -2.6 h1.6 Z" fill="#262626"/>
<path d="M293.70 582.00 l-.8 2.6 h1.6 Z M293.70 638.00 l-.8 -2.6 h1.6 Z" fill="#262626"/>
<text x="71.10" y="535.00" font-size="7.3" text-anchor="middle" stroke="#231f20" stroke-width=".2" >14.7</text>
<text x="179.00" y="535.40" font-size="7.3" text-anchor="middle" stroke="#231f20" stroke-width=".2" >228.3</text>
<text x="137.60" y="545.60" font-size="7.3" text-anchor="middle" stroke="#231f20" stroke-width=".2" >134.9</text>
<text x="240.20" y="545.60" font-size="7.3" text-anchor="middle" stroke="#231f20" stroke-width=".2" >93.4</text>
<text x="102.00" y="555.90" font-size="7.3" text-anchor="middle" stroke="#231f20" stroke-width=".2" >55.4</text>
<text x="162.80" y="556.00" font-size="7.3" text-anchor="middle" stroke="#231f20" stroke-width=".2" >79.5</text>
<path d="M127.40 573.00 A19 19 0 0 1 143.85 582.50" fill="none" stroke="#262626" stroke-width=".75"/>
<text x="139.40" y="575.10" font-size="7.8" text-anchor="middle" transform="rotate(28 139.40 575.10)" stroke="#231f20" stroke-width=".2" font-style="italic">60&#176;</text>
<line x1="82" y1="610" x2="285.5" y2="610" stroke="#333" stroke-width="1.15" stroke-dasharray="13 2.5 2.5 2.5"/>
<path d="M64.4 604.30 H72.72 Q77.00 604.30 77.00 607.72 V612.28 Q77.00 615.70 72.72 615.70 H64.4 Z" fill="#d0d4d8" stroke="#1c1c1c" stroke-width="1"/>
<line x1="65.66" y1="604.30" x2="65.66" y2="615.70" stroke="#1c1c1c" stroke-width="1.7" />
<line x1="69.06" y1="604.30" x2="69.06" y2="615.70" stroke="#1c1c1c" stroke-width="1.4" />
<line x1="72.34" y1="604.30" x2="72.34" y2="615.70" stroke="#1c1c1c" stroke-width="1.4" />
<line x1="74.98" y1="605.44" x2="74.98" y2="614.56" stroke="#1c1c1c" stroke-width="0.9" />
<line x1="64.40" y1="610.00" x2="77.80" y2="610.00" stroke="#333" stroke-width="0.7" />
<path d="M55.60 610 L57.20 608.8 H64.4 V611.2 H57.20 Z" fill="#1c1c1c" stroke="#1c1c1c" stroke-width=".4"/>
<path d="M152.60 627.30 V624.90 A3.5 3.5 0 0 1 159.60 624.90 V627.30 Z" fill="#d3d6d9" stroke="#1c1c1c" stroke-width="1.5"/>
<rect x="152.20" y="628.10" width="7.9" height="6.50" fill="#d5d8db" stroke="#1c1c1c" stroke-width=".9"/>
<line x1="152.20" y1="631.20" x2="160.10" y2="631.20" stroke="#262626" stroke-width="0.8" />
<path d="M152.30 634.6 H162.60 Q164.70 635.6 164.50 638.6 V647.5 H150.70 V641.6 Q150.30 636.6 152.30 634.6 Z" fill="#1a1a1a" stroke="#1a1a1a" stroke-width=".5"/>
<path d="M117 645.40 H149.10 Q154.60 645.40 157.10 637.80" fill="none" stroke="#2a2a2a" stroke-width="3.8" stroke-linecap="butt"/>
<path d="M117.8 645.40 H149.10 Q154.60 645.40 157.10 637.80" fill="none" stroke="#fff" stroke-width="2.1" stroke-linecap="butt"/>
<rect x="151.50" y="647.50" width="11.90" height="2.4" fill="#e8e8e8" stroke="#333" stroke-width=".7"/>
<line x1="154.47" y1="647.50" x2="154.47" y2="649.90" stroke="#444" stroke-width="0.6" />
<line x1="157.45" y1="647.50" x2="157.45" y2="649.90" stroke="#444" stroke-width="0.6" />
<line x1="160.43" y1="647.50" x2="160.43" y2="649.90" stroke="#444" stroke-width="0.6" />
<line x1="151.80" y1="649.90" x2="151.80" y2="670.00" stroke="#222" stroke-width="0.9" />
<line x1="163.10" y1="649.90" x2="163.10" y2="670.00" stroke="#222" stroke-width="0.9" />
<text x="63.40" y="655.60" font-size="7.2" text-anchor="start" stroke="#231f20" stroke-width=".2" textLength="65.9" lengthAdjust="spacingAndGlyphs">&#248;4 mm Air Cooling Hose</text>
<path d="M63.40 657.50 H134.60 L140.00 646.50" fill="none" stroke="#262626" stroke-width="1.05"/>
<text x="107.50" y="668.10" font-size="7.2" text-anchor="start" stroke="#231f20" stroke-width=".2" textLength="34.9" lengthAdjust="spacingAndGlyphs">Motor Cord</text>
<path d="M107.50 670.00 H146.20 L154.00 655.20" fill="none" stroke="#262626" stroke-width="1.05"/>
<text x="184" y="662.2" font-size="8.6" stroke="#231f20" stroke-width=".2" textLength="56.4" lengthAdjust="spacingAndGlyphs">HES810-NT40</text>
<text x="234.00" y="588.80" font-size="7.4" text-anchor="start" stroke="#231f20" stroke-width=".2" textLength="18.3" lengthAdjust="spacingAndGlyphs">NT40</text>
<path d="M252.30 590.20 H234.30 L231.20 594.00" fill="none" stroke="#262626" stroke-width=".8"/>
</g></svg>
</body></html>
